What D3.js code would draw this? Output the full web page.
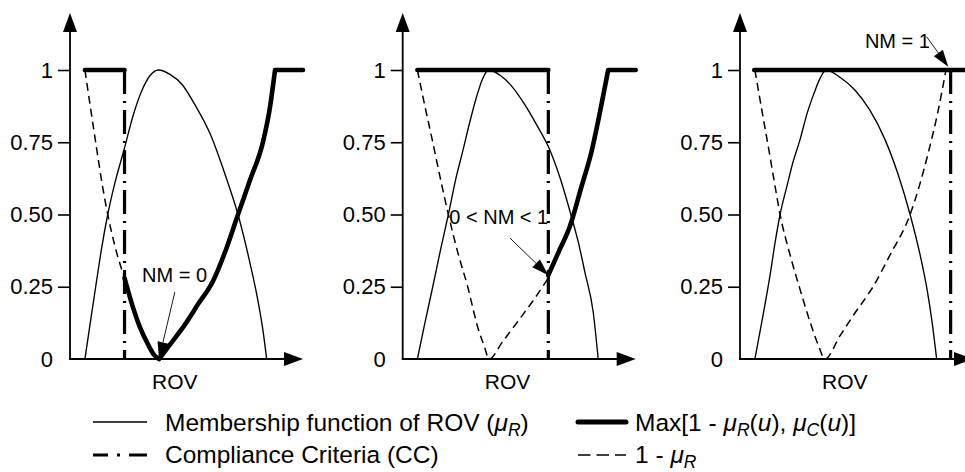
<!DOCTYPE html>
<html><head><meta charset="utf-8">
<script src="https://cdn.jsdelivr.net/npm/d3@7"></script>
<style>
body{margin:0;background:#fff}
svg{display:block}
text{font-family:"Liberation Sans",Arial,Helvetica,sans-serif;fill:#000}
</style>
</head><body>
<svg id="c" width="965" height="472"></svg>
<script>
// ---------- data (x in ROV units 0..100 along the axis, y = membership 0..1) ----------
const yTicks = [0, 0.25, 0.5, 0.75, 1];
const yTickLabels = ["0", "0.25", "0.50", "0.75", "1"];
const xAxisLabel = "ROV";
const nmLabels = ["NM = 0", "0 < NM < 1", "NM = 1"];
const ccPositions = [23.4, 62.5, 90.4];

// panel 1
const mu1 = [[6.4,0],[8.6,0.12],[11.4,0.27],[13.7,0.39],[16.2,0.5],[19.3,0.61],[23.4,0.73],[27.0,0.84],[30.9,0.93],[34.3,0.98],[37.9,1],[42.9,0.985],[48.1,0.95],[53.6,0.88],[60.1,0.78],[66.5,0.64],[72.1,0.5],[77.3,0.33],[80.7,0.2],[82.8,0.1],[84.4,0]];
const inv1 = [[6.4,1],[8.6,0.88],[11.4,0.73],[13.7,0.61],[16.2,0.5],[19.3,0.39],[23.4,0.28]];
const max1 = [[6.4,1],[23.4,1],null,[23.4,0.28],[26.6,0.19],[30.0,0.11],[33.5,0.05],[36.0,0.015],[38.2,0],null,[38.2,0],[42.9,0.05],[49.4,0.12],[55.0,0.19],[61.4,0.27],[67.0,0.38],[72.1,0.5],[77.3,0.62],[82.8,0.75],[85.8,0.87],[88.0,1],null,[88.0,1],[100,1]];

// panel 2
const mu2 = [[6.3,0],[9.4,0.12],[12.9,0.25],[16.3,0.38],[19.6,0.5],[22.7,0.62],[25.8,0.72],[28.8,0.82],[31.8,0.91],[34.3,0.97],[37.0,1],[42.1,0.98],[47.2,0.94],[52.4,0.88],[57.5,0.81],[62.5,0.735],[67.8,0.62],[72.5,0.49],[75.5,0.4],[78.2,0.3],[81.8,0.16],[83.9,0]];
const inv2 = [[6.3,1],[9.4,0.88],[12.9,0.75],[16.3,0.62],[19.6,0.5],[23.6,0.37],[27.9,0.25],[32.2,0.11],[35.2,0.04],[37.0,0],[42.9,0.06],[49.4,0.13],[55.8,0.2],[62.5,0.28]];
const max2 = [[6.3,1],[62.5,1],null,[62.5,0.29],[66.9,0.37],[71.8,0.46],[76.5,0.59],[81.1,0.72],[84.8,0.86],[88.2,1],null,[88.2,1],[100,1]];

// panel 3
const mu3 = [[6.4,0],[9.4,0.13],[12.9,0.29],[15.0,0.4],[17.2,0.5],[20.2,0.6],[22.7,0.68],[25.8,0.76],[28.8,0.85],[31.8,0.92],[34.3,0.97],[36.9,1],[42.9,0.975],[49.4,0.93],[55.8,0.86],[62.2,0.76],[67.8,0.64],[73.0,0.5],[77.3,0.36],[80.3,0.24],[82.4,0.13],[84.4,0]];
const inv3 = [[6.4,1],[9.4,0.86],[12.9,0.7],[15.0,0.6],[17.2,0.5],[21.5,0.36],[25.8,0.24],[30.0,0.13],[33.5,0.05],[36.5,0],[42.9,0.08],[49.4,0.16],[57.1,0.25],[64.4,0.36],[73.0,0.5],[77.0,0.6],[81.0,0.72],[84.8,0.85],[88.4,1]];
const max3 = [[6.1,1],[100,1]];

// legend
const legendLabels = [
  [["Membership function of ROV (",""],["μ","i"],["R","sub"],[")",""]],
  [["Max[1 - ",""],["μ","i"],["R","sub"],["(",""],["u","i"],["), ",""],["μ","i"],["C","sub"],["(",""],["u","i"],[")]",""]],
  [["Compliance Criteria (CC)",""]],
  [["1 - ",""],["μ","i"],["R","sub"]]
];
const legendStyles = ["thin","thick","dashdot","dashed"];

// ---------- layout ----------
const panels = [
  {mu: mu1, inv: inv1, max: max1},
  {mu: mu2, inv: inv2, max: max2},
  {mu: mu3, inv: inv3, max: max3}
];
const origins = [70, 402.7, 740];
const axisLen = 233;
const annot = [
  {text:[30.9,0.268], from:[45,0.232], to:[38.2,0]},
  {text:[20.0,0.466], from:[46.1,0.418], to:[62.5,0.29]},
  {text:[53.6,1.076], from:[80.1,1.115], to:[89.4,1.011]}
];

const svg = d3.select("#c");
const y = d3.scaleLinear().domain([0,1]).range([359,70]);

function arrowHead(g, x1, y1, x2, y2, len, hw) {
  const dx = x2 - x1, dy = y2 - y1, L = Math.hypot(dx, dy);
  const ux = dx / L, uy = dy / L;
  const bx = x2 - ux * len, by = y2 - uy * len;
  g.append("path")
    .attr("d", `M${x2},${y2}L${bx - uy*hw},${by + ux*hw}L${bx + uy*hw},${by - ux*hw}Z`)
    .attr("fill", "#000");
  return [bx, by];
}

panels.forEach((p, i) => {
  const x0 = origins[i];
  const x = d3.scaleLinear().domain([0,100]).range([x0, x0 + axisLen]);
  const g = svg.append("g");

  // y ticks
  const ax = d3.axisLeft(y).tickValues(yTicks)
    .tickFormat((d, j) => yTickLabels[j]).tickSize(12).tickPadding(5);
  const ga = g.append("g").attr("transform", `translate(${x0},0)`).call(ax);
  ga.select(".domain").remove();
  ga.selectAll(".tick").filter(d => d === 0).select("line").remove();
  ga.selectAll(".tick line").attr("stroke", "#000").attr("stroke-width", 1.6);
  ga.selectAll(".tick text").attr("font-size", 22)
    .attr("font-family", '"Liberation Sans", Arial, sans-serif').attr("fill", "#000");

  // axis lines with arrows
  g.append("line").attr("x1", x0).attr("y1", y(0) + 0.8).attr("x2", x0).attr("y2", 30)
    .attr("stroke", "#000").attr("stroke-width", 1.8);
  arrowHead(g, x0, 40, x0, 13, 19, 7);
  g.append("line").attr("x1", x0 - 0.9).attr("y1", y(0)).attr("x2", x(100) - 17).attr("y2", y(0))
    .attr("stroke", "#000").attr("stroke-width", 1.8);
  arrowHead(g, x(90), y(0), x(100), y(0), 19, 7);

  // x label
  g.append("text").attr("x", x(45)).attr("y", 389).attr("text-anchor", "middle")
    .attr("font-size", 21).text(xAxisLabel);

  const line = d3.line().defined(d => d !== null)
    .x(d => x(d[0])).y(d => y(d[1])).curve(d3.curveMonotoneX);

  // membership function
  g.append("path").attr("d", line(p.mu)).attr("fill", "none")
    .attr("stroke", "#000").attr("stroke-width", 1.35);
  // 1 - mu
  g.append("path").attr("d", line(p.inv)).attr("fill", "none")
    .attr("stroke", "#000").attr("stroke-width", 1.5).attr("stroke-dasharray", "8,5");
  // compliance criteria
  g.append("line").attr("x1", x(ccPositions[i])).attr("x2", x(ccPositions[i]))
    .attr("y1", y(1)).attr("y2", y(0))
    .attr("stroke", "#000").attr("stroke-width", 3.2).attr("stroke-dasharray", "24,7,2,7");
  // max
  g.append("path").attr("d", line(p.max)).attr("fill", "none")
    .attr("stroke", "#000").attr("stroke-width", 4.6).attr("stroke-linecap", "round")
    .attr("stroke-linejoin", "round");

  // annotation
  const a = annot[i];
  g.append("text").attr("x", x(a.text[0])).attr("y", y(a.text[1]))
    .attr("font-size", 20).text(nmLabels[i]);
  const fx = x(a.from[0]), fy = y(a.from[1]), tx = x(a.to[0]), ty = y(a.to[1]);
  const [bx, by] = arrowHead(g, fx, fy, tx, ty, 17, 5.5);
  g.append("line").attr("x1", fx).attr("y1", fy).attr("x2", bx).attr("y2", by)
    .attr("stroke", "#000").attr("stroke-width", 0.9);
});

// ---------- legend ----------
const legCols = [[93, 147, 165], [578, 626, 635]];
const legRows = [[422, 431], [455, 463]];
legendLabels.forEach((parts, k) => {
  const col = legCols[k % 2], row = legRows[Math.floor(k / 2)];
  const st = legendStyles[k];
  const ln = svg.append("line").attr("x1", col[0]).attr("x2", col[1])
    .attr("y1", row[0]).attr("y2", row[0]).attr("stroke", "#000");
  if (st === "thin") ln.attr("stroke-width", 1.3);
  if (st === "thick") ln.attr("stroke-width", 5).attr("stroke-linecap", "round");
  if (st === "dashdot") ln.attr("stroke-width", 3.2).attr("stroke-dasharray", "15,9,3,9,18");
  if (st === "dashed") ln.attr("stroke-width", 1.4).attr("stroke-dasharray", "12.5,6");
  const t = svg.append("text").attr("x", col[2]).attr("y", row[1]).attr("font-size", 24.5);
  let sub = false;
  parts.forEach(([s, f]) => {
    const ts = t.append("tspan").text(s);
    if (f === "i") ts.attr("font-style", "italic");
    if (f === "sub") {
      ts.attr("font-style", "italic").attr("font-size", 17.5).attr("dy", 5);
      sub = true;
    } else if (sub) {
      ts.attr("dy", -5);
      sub = false;
    }
  });
});
</script>
</body></html>
